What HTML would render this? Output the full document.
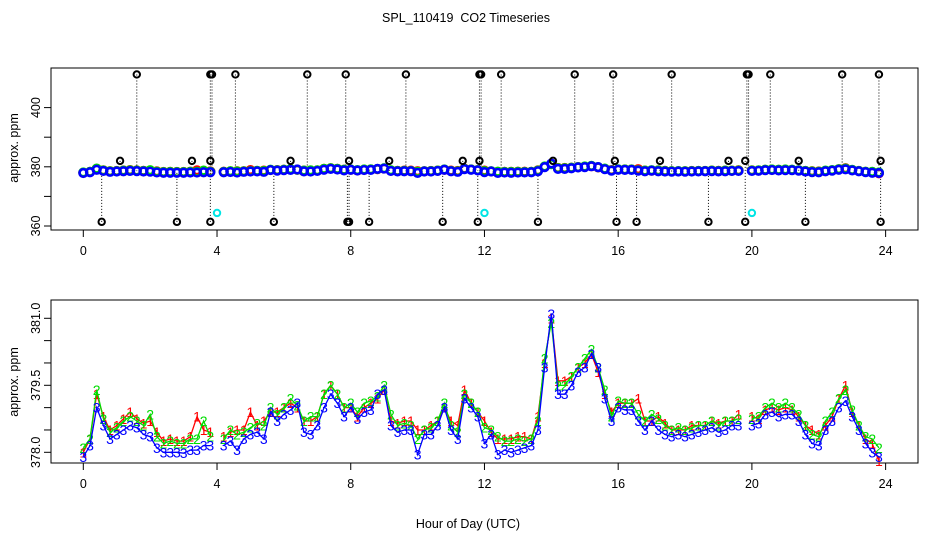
<!DOCTYPE html>
<html><head><meta charset="utf-8"><style>
html,body{margin:0;padding:0;background:#fff;}
svg{display:block;font-family:"Liberation Sans",sans-serif;}
</style></head><body>
<svg id="chart" width="936" height="540" viewBox="0 0 936 540" xmlns="http://www.w3.org/2000/svg">
<rect width="936" height="540" fill="#fff"/>
<text x="466" y="22" font-size="12.5" text-anchor="middle" style="white-space:pre">SPL_110419  CO2 Timeseries</text>
<text x="468" y="528" font-size="12.5" text-anchor="middle">Hour of Day (UTC)</text>
<text transform="translate(18,148) rotate(-90)" font-size="12.5" text-anchor="middle">approx. ppm</text>
<text transform="translate(18,382) rotate(-90)" font-size="12.5" text-anchor="middle">approx. ppm</text>
<g id="topPanel"></g>
<g id="botPanel"></g>
</svg>
<script>
const hours = [];
for (let i = 0; i < 120; i++) hours.push(i * 0.2);
const series3 = [377.9,378.15,379.0,378.6,378.3,378.4,378.5,378.6,378.55,378.4,378.35,378.1,378.0,378.0,378.0,377.98,378.05,378.05,378.15,378.15,
null,378.15,378.25,378.05,378.3,378.4,378.45,378.3,378.9,378.7,378.85,378.95,379.1,378.45,378.4,378.6,379.0,379.3,379.1,378.8,
379.0,378.75,378.9,378.95,379.3,379.4,378.6,378.45,378.5,378.5,377.95,378.4,378.4,378.6,379.0,378.5,378.3,379.2,379.0,378.8,
378.2,378.4,377.95,378.05,378.0,378.05,378.1,378.15,378.5,379.9,381.1,379.3,379.3,379.5,379.8,379.9,380.2,379.9,379.2,378.7,
379.0,378.95,378.95,378.7,378.5,378.7,378.5,378.4,378.35,378.4,378.35,378.4,378.45,378.5,378.55,378.45,378.5,378.6,378.6,null,
378.6,378.65,378.85,378.9,378.8,378.85,378.85,378.7,378.4,378.2,378.15,378.5,378.7,379.0,379.15,378.8,378.5,378.2,378.0,377.9];
const series2 = [378.1,378.3,379.4,378.75,378.45,378.55,378.7,378.8,378.7,378.6,378.85,378.35,378.2,378.25,378.2,378.2,378.3,378.3,378.7,378.35,
null,378.3,378.5,378.4,378.45,378.55,378.65,378.6,379.0,378.85,379.0,379.2,379.05,378.7,378.8,378.8,379.3,379.5,379.3,379.0,
379.1,378.9,379.1,379.15,379.25,379.5,378.85,378.6,378.65,378.6,378.3,378.5,378.55,378.7,379.1,378.6,378.45,379.3,379.1,378.9,
378.55,378.5,378.35,378.25,378.25,378.3,378.25,378.3,378.7,380.1,380.9,379.5,379.5,379.7,379.9,380.1,380.3,379.9,379.4,378.8,
379.15,379.1,379.1,378.85,378.7,378.85,378.75,378.6,378.5,378.55,378.5,378.55,378.6,378.6,378.7,378.6,378.7,378.7,378.75,null,
378.75,378.8,379.0,379.1,379.0,379.1,379.0,378.85,378.6,378.4,378.35,378.7,378.9,379.2,379.4,378.95,378.6,378.35,378.3,378.1];
const series1 = [378.0,378.3,379.3,378.8,378.5,378.6,378.75,378.9,378.75,378.65,378.7,378.45,378.25,378.3,378.25,378.25,378.35,378.8,378.5,378.45,
null,378.35,378.45,378.5,378.5,378.9,378.6,378.7,378.9,378.9,379.0,379.1,379.0,378.7,378.7,378.8,379.3,379.5,379.3,379.0,
379.0,378.8,379.0,379.1,379.2,379.4,378.7,378.65,378.7,378.7,378.5,378.5,378.6,378.7,379.0,378.7,378.6,379.4,379.1,378.9,
378.7,378.45,378.3,378.3,378.3,378.35,378.35,378.3,378.8,380.0,381.0,379.6,379.6,379.7,379.9,380.0,380.2,379.8,379.3,378.9,
379.1,379.1,379.1,379.2,378.7,378.7,378.8,378.65,378.5,378.5,378.5,378.6,378.6,378.6,378.7,378.65,378.7,378.7,378.85,null,
378.8,378.75,378.95,379.0,378.95,379.0,378.95,378.8,378.6,378.5,378.4,378.6,378.8,379.2,379.5,378.9,378.6,378.3,378.2,377.8];
const outlierHighHours = [1.6,3.8,3.85,4.55,6.7,7.85,9.65,11.85,11.9,12.5,14.7,15.85,17.6,19.85,19.9,20.55,22.7,23.8];
const outlierLowHours = [0.55,2.8,3.8,5.7,7.9,7.95,8.55,10.75,11.8,13.6,15.95,16.55,18.7,19.8,21.6,23.85];
const outlierMidHours = [1.1,3.25,3.8,6.2,7.95,9.15,11.35,11.85,14.05,15.9,17.25,19.3,19.8,21.4,23.85];
const cyanHours = [4.0,12.0,20.0];
const outlierHigh = 411.2, outlierLow = 361.4, outlierMid = 382.0, cyanValue = 364.4;
const xTicks = [0,4,8,12,16,20,24];
const topYTicks = [360,370,380,390,400];
const topYLabels = ["360","380","400"];
const botYTicks = [378.0,378.5,379.0,379.5,380.0,380.5,381.0];
const botYLabels = ["378.0","379.5","381.0"];

const NS = "http://www.w3.org/2000/svg";
const X = h => 83.3 + h * 33.43;
const Ytop = v => 226 - (v - 360) * 2.96;
const Ybot = v => 452.3 - (v - 378) * 44.67;
function mk(tag, attrs, parent){ const e=document.createElementNS(NS,tag); for(const k in attrs) e.setAttribute(k,attrs[k]); parent.appendChild(e); return e; }
const colors = ["#ff0000","#00dd00","#0000ff"];
const allSeries = [series1, series2, series3];

function axes(g, y0, y1, yTicks, yLabels, Y){
  const box = mk("rect",{x:51,y:y0,width:867,height:y1-y0,fill:"none",stroke:"#000","stroke-width":1},g);
  
  
  xTicks.forEach(t=>{
    const tk = mk("line",{x1:X(t),x2:X(t),y1:y1,y2:y1+7,stroke:"#000"},g);
    
    
    const tx = mk("text",{x:X(t),y:y1+25,"font-size":12.5,"text-anchor":"middle"},g);
    tx.textContent = t;
    
    
  });
  yTicks.forEach(v=>{
    const tk = mk("line",{x1:44,x2:51,y1:Y(v),y2:Y(v),stroke:"#000"},g);
    
    
  });
  yLabels.forEach(l=>{
    const tx = mk("text",{transform:`translate(40,${Y(parseFloat(l))}) rotate(-90)`,"font-size":12.5,"text-anchor":"middle"},g);
    tx.textContent = l;
    
    
  });
}

// Top panel
const topG = document.getElementById("topPanel");
axes(topG, 68, 230, topYTicks, topYLabels, Ytop);
function bandVal(h){ const i=Math.min(119,Math.round(h/0.2)); let v=series3[i]; if(v==null) v=series3[Math.max(0,i-1)]; return v; }
function spikes(hs, val){
  hs.forEach(h=>{
    const l = mk("line",{x1:X(h),x2:X(h),y1:Ytop(val),y2:Ytop(bandVal(h)),stroke:"#000","stroke-width":1,"stroke-dasharray":"1,2"},topG);
    
    
  });
}
spikes(outlierHighHours, outlierHigh); spikes(outlierLowHours, outlierLow); spikes(outlierMidHours, outlierMid);
allSeries.forEach((s,si)=>{
  s.forEach((v,i)=>{
    if(v==null) return;
    const c = mk("circle",{cx:X(hours[i]),cy:Ytop(v),r:3.8,fill:"none",stroke:colors[si],"stroke-width":2.6},topG);
    
    
  });
});
function outMarks(hs,val,col){
  hs.forEach(h=>{
    const c = mk("circle",{cx:X(h),cy:Ytop(val),r:3.2,fill:"none",stroke:col,"stroke-width":2},topG);
    
    
  });
}
outMarks(outlierHighHours,outlierHigh,"#000"); outMarks(outlierLowHours,outlierLow,"#000"); outMarks(outlierMidHours,outlierMid,"#000"); outMarks(cyanHours,cyanValue,"#00e5e5");

// Bottom panel
const botG = document.getElementById("botPanel");
axes(botG, 300, 463, botYTicks, botYLabels, Ybot);
allSeries.forEach((s,si)=>{
  let d="", pen=false;
  s.forEach((v,i)=>{ if(v==null){pen=false;return;} d += (pen?"L":"M")+X(hours[i]).toFixed(1)+","+Ybot(v).toFixed(1); pen=true; });
  const p = mk("path",{d:d,fill:"none",stroke:colors[si],"stroke-width":1.3},botG);
  
  
  s.forEach((v,i)=>{
    if(v==null) return;
    const t = mk("text",{x:X(hours[i]),y:Ybot(v)+5,"font-size":14,"text-anchor":"middle",fill:colors[si]},botG);
    t.textContent = String(si+1);
    
    
  });
});
</script>
</body></html>
